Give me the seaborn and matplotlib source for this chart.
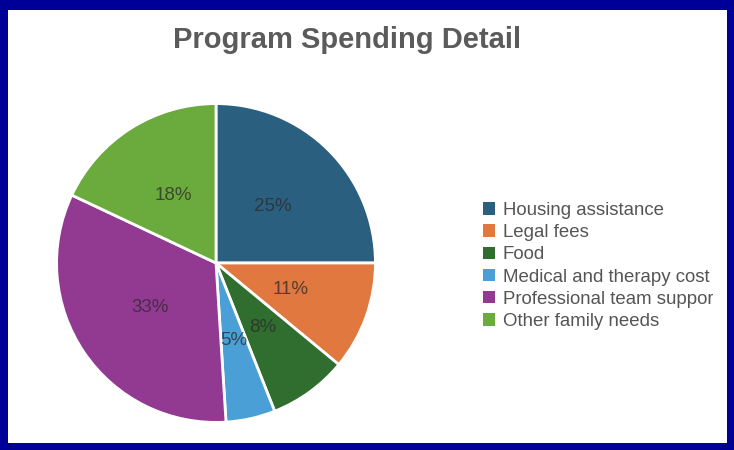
import matplotlib
matplotlib.use("Agg")
import matplotlib.pyplot as plt
import seaborn as sns
from matplotlib.patches import Rectangle, Patch
from matplotlib.transforms import Bbox, TransformedBbox

sns.set_theme(style="white")
plt.rcParams['font.family'] = ['Liberation Sans', 'DejaVu Sans']

categories = ["Housing assistance", "Legal fees", "Food", "Medical and therapy cost",
              "Professional team support", "Other family needs"]
values = [25, 11, 8, 5, 33, 18]
colors = ["#2B5F80", "#E07840", "#2F6E2F", "#4A9FD6", "#923A92", "#6BAA3D"]
title = "Program Spending Detail"

W, H = 734, 450
fig = plt.figure(figsize=(W / 100, H / 100), dpi=100)
fig.patch.set_facecolor("#000099")
# white panel inside the blue frame
fig.add_artist(Rectangle((8 / W, 7 / H), (727 - 8) / W, (440 - 7) / H,
                         transform=fig.transFigure, facecolor="white", edgecolor="none", zorder=0))

cx, cy, r = 216, 263, 161
ax = fig.add_axes([(cx - r) / W, (H - cy - r) / H, 2 * r / W, 2 * r / H])
ax.set_facecolor("none")
wedges, texts, autotexts = ax.pie(
    values, colors=colors, startangle=90, counterclock=False, radius=1,
    autopct=lambda p: f"{p:.0f}%", pctdistance=0.5,
    wedgeprops=dict(edgecolor="white", linewidth=2),
    textprops=dict(color="#2a2a2a", alpha=0.75, fontsize=13.5))
ax.set_xlim(-1.01, 1.01)
ax.set_ylim(-1.01, 1.01)
ax.set_aspect("equal")
ax.axis("off")

fig.text(347 / W, 1 - 40 / H, title, ha="center", va="center",
         fontsize=21, fontweight="bold", color="#5b5b5b")

handles = [Patch(facecolor=c, edgecolor="none") for c in colors]
leg = fig.legend(handles, categories, loc="center left",
                 bbox_to_anchor=(483 / W, 1 - 266 / H), frameon=False,
                 fontsize=13.4, handlelength=0.65, handleheight=0.65,
                 handletextpad=0.4, labelspacing=0.28, borderpad=0, borderaxespad=0)
clip = TransformedBbox(Bbox([[0, 0], [713 / W, 1]]), fig.transFigure)
for t in leg.get_texts():
    t.set_color("#555555")
    t.set_clip_box(clip)
    t.set_clip_on(True)

fig.savefig("out.png", dpi=100, facecolor=fig.get_facecolor())
